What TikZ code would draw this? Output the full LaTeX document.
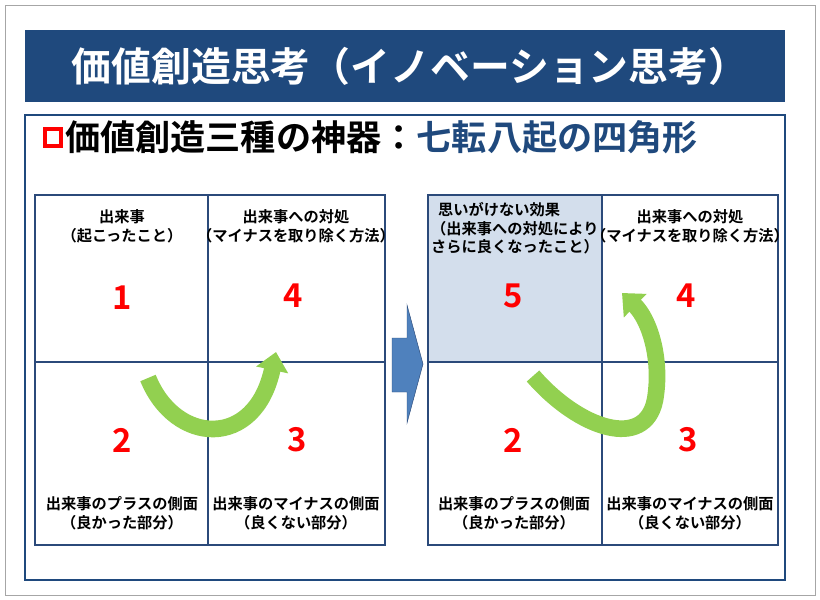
\documentclass[tikz,border=0pt]{standalone}
\usepackage{fontspec}
\setmainfont{Noto Sans CJK JP}[BoldFont={* Bold}]
\usetikzlibrary{arrows.meta}
\definecolor{navy}{HTML}{1F497D}
\definecolor{gridblue}{HTML}{2B4A7A}
\definecolor{cellblue}{HTML}{D3DEEC}
\definecolor{leaf}{HTML}{92D050}
\definecolor{arrowblue}{HTML}{4F81BD}

\tikzset{
  gridline/.style={draw=gridblue, line width=1.4pt},
  num/.style={text=red, font=\bfseries\fontsize{28}{28}\selectfont},
  lbl/.style={font=\bfseries\fontsize{13}{16}\selectfont, align=center, inner sep=0pt},
  turn/.style={leaf, line width=0.5cm, -{Triangle[length=0.55cm,width=0.95cm]}}
}

\begin{document}
\begin{tikzpicture}[x=0.03cm,y=-0.03cm]
    \useasboundingbox (0,0) rectangle (820,600);
    \draw[gray!70, line width=0.6pt] (5,5) rectangle (815,595);

%title
    \fill[navy] (25,30) rectangle (785,102);
    \node (title) at (410,66) [text=white, font=\bfseries\fontsize{34}{34}\selectfont] {価値創造思考（イノベーション思考）};
    \draw[navy, line width=1.4pt] (25,115) rectangle (785,580);
    \draw[red, line width=3pt] (45,129) rectangle (61,146);
    \node (sub) at (65,137) [anchor=west, inner sep=0pt, font=\bfseries\fontsize{30}{30}\selectfont] {価値創造三種の神器：\textcolor{navy}{七転八起の四角形}};

%left square
    \coordinate (L1) at (35,195);
    \coordinate (L2) at (385,545);
    \draw[gridline] (L1) rectangle (L2);
    \draw[gridline] (208,195) -- (208,545);
    \draw[gridline] (35,362) -- (385,362);

%right square
    \fill[cellblue] (428,195) rectangle (602,362);
    \coordinate (R1) at (428,195);
    \coordinate (R2) at (778,545);
    \draw[gridline] (R1) rectangle (R2);
    \draw[gridline] (602,195) -- (602,545);
    \draw[gridline] (428,362) -- (778,362);

%big arrow
    \filldraw[fill=arrowblue, draw=gridblue, line width=0.4pt]
      (392,338) -- (407,338) -- (407,305) -- (423,364) -- (407,423) -- (407,392) -- (392,392) -- cycle;

%turning arrows
    \draw[turn] (148,378) .. controls (175,445) and (255,450) .. (276,352);
    \draw[turn] (533,376) .. controls (580,430) and (645,450) .. (655,400)
                         .. controls (662,360) and (650,320) .. (622,293);

%labels
    \node (a1) at (122,226) [lbl] {出来事\\（起こったこと）};
    \node (a4) at (296,226) [lbl] {出来事への対処\\（マイナスを取り除く方法）};
    \node (a2) at (122,513) [lbl] {出来事のプラスの側面\\（良かった部分）};
    \node (a3) at (296,513) [lbl] {出来事のマイナスの側面\\（良くない部分）};
    \node (n1) at (122,298) [num] {1};
    \node (n4) at (293,296) [num] {4};
    \node (n2) at (122,440) [num] {2};
    \node (n3) at (297,440) [num] {3};

    \node (b5) at (431,202) [lbl, anchor=north west, align=left] {\ \ 思いがけない効果\\（出来事への対処により\\さらに良くなったこと）};
    \node (b4) at (690,226) [lbl] {出来事への対処\\（マイナスを取り除く方法）};
    \node (b2) at (514,513) [lbl] {出来事のプラスの側面\\（良かった部分）};
    \node (b3) at (690,513) [lbl] {出来事のマイナスの側面\\（良くない部分）};
    \node (n5) at (513,296) [num] {5};
    \node (m4) at (686,296) [num] {4};
    \node (m2) at (513,440) [num] {2};
    \node (m3) at (688,440) [num] {3};
\end{tikzpicture}
\end{document}
